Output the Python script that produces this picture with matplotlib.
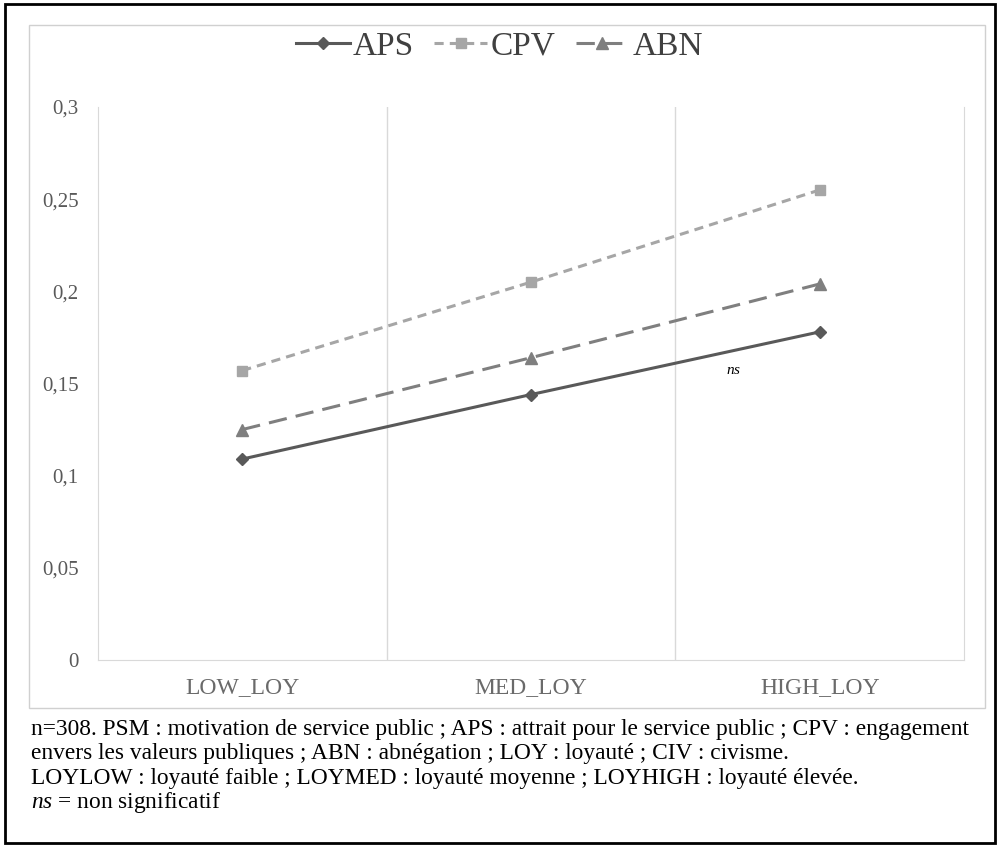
import matplotlib.pyplot as plt
from matplotlib.patches import Rectangle
from matplotlib.ticker import FuncFormatter

categories = ['LOW_LOY', 'MED_LOY', 'HIGH_LOY']
aps = [0.109, 0.144, 0.178]
cpv = [0.157, 0.205, 0.255]
abn = [0.125, 0.164, 0.204]
yticks = [0, 0.05, 0.1, 0.15, 0.2, 0.25, 0.3]

notes = [
    "n=308. PSM : motivation de service public ; APS : attrait pour le service public ; CPV : engagement",
    "envers les valeurs publiques ; ABN : abnégation ; LOY : loyauté ; CIV : civisme.",
    "LOYLOW : loyauté faible ; LOYMED : loyauté moyenne ; LOYHIGH : loyauté élevée.",
    r"$ns$ = non significatif",
]

plt.rcParams['font.family'] = ['Liberation Serif', 'DejaVu Serif']
plt.rcParams['mathtext.fontset'] = 'custom'
plt.rcParams['mathtext.it'] = 'Liberation Serif:italic'
plt.rcParams['mathtext.rm'] = 'Liberation Serif'

fig = plt.figure(figsize=(9.99, 8.46), dpi=100)

# outer black frame and inner chart frame
fig.patches.append(Rectangle((0.005, 0.004), 0.991, 0.991, transform=fig.transFigure,
                             fill=False, edgecolor='black', linewidth=2))
fig.patches.append(Rectangle((0.029, 0.163), 0.957, 0.808, transform=fig.transFigure,
                             fill=False, edgecolor='#d0d0d0', linewidth=1))

ax = fig.add_axes([0.098, 0.2199, 0.867, 0.6536])
x = range(len(categories))
ax.plot(x, aps, color='#595959', lw=2.2, marker='D', ms=6, label='APS')
ax.plot(x, cpv, color='#a6a6a6', lw=2.2, ls=(0, (3, 2)), marker='s', ms=7, label='CPV')
ax.plot(x, abn, color='#7f7f7f', lw=2.2, ls=(0, (6, 3)), marker='^', ms=8, label='ABN')

ax.set_xlim(-0.5, 2.5)
ax.set_ylim(0, 0.3)
ax.set_yticks(yticks)
ax.yaxis.set_major_formatter(FuncFormatter(lambda v, p: ('%g' % v).replace('.', ',')))
ax.set_xticks(x)
ax.set_xticklabels(categories, fontsize=17, color='#6a6a6a')
ax.set_xticks([0.5, 1.5], minor=True)
ax.grid(True, which='minor', axis='x', color='#d9d9d9', lw=1)
ax.tick_params(axis='y', labelsize=15, colors='#595959', length=0, pad=14)
ax.tick_params(axis='x', length=0, pad=12)
ax.tick_params(which='minor', length=0)
ax.spines['top'].set_visible(False)
for s in ['left', 'bottom', 'right']:
    ax.spines[s].set_color('#d9d9d9')

ax.text(1.70, 0.157, '$ns$', fontsize=11, ha='center', va='center')

fig.legend(loc='center', bbox_to_anchor=(0.5, 0.945), ncol=3, frameon=False,
           fontsize=24, labelcolor='#404040', handlelength=1.6, handletextpad=0.1,
           columnspacing=0.6)

ys = [0.138, 0.109, 0.080, 0.051]
for t, yy in zip(notes, ys):
    fig.text(0.031, yy, t, fontsize=16.8, va='center')

plt.savefig('out.png', dpi=100)
